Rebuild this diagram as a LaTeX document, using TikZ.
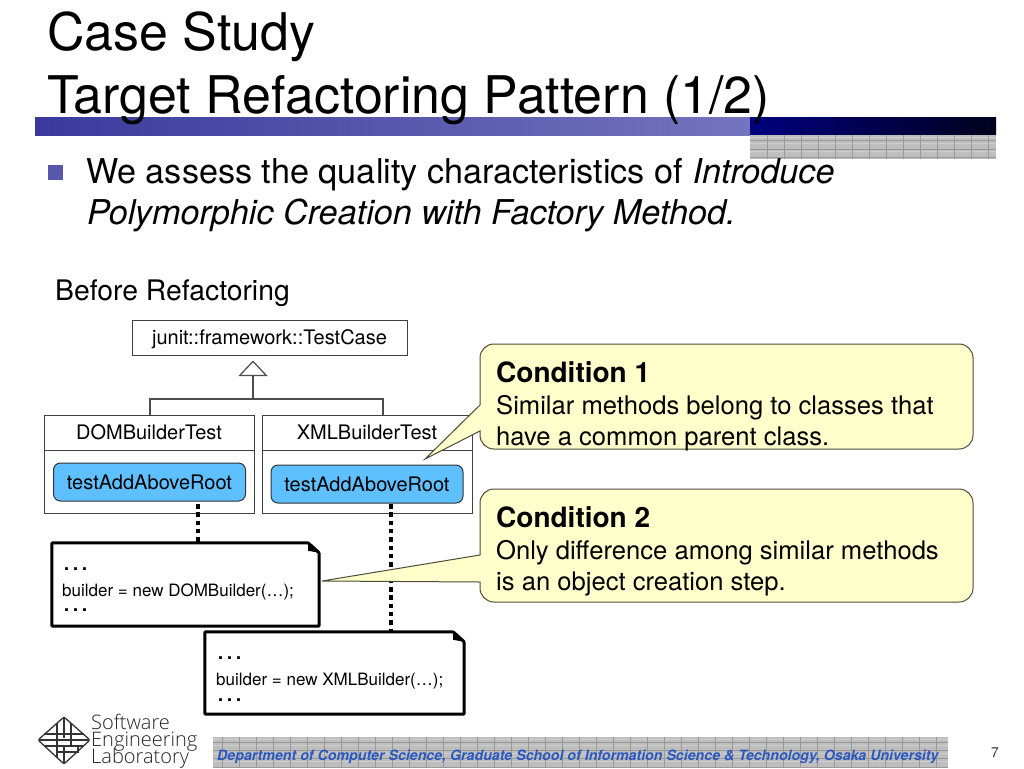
\documentclass[tikz,border=0pt]{standalone}
\usepackage{fontspec}
\setmainfont{TeX Gyre Heros}
\newfontfamily\logofont{Open Sans Light}
\usepackage{color}
\usetikzlibrary{arrows.meta}
\def\width{1024}
\def\hauteur{768}
\definecolor{bandleft}{HTML}{3A3A9C}
\definecolor{bandright}{HTML}{7474BE}
\definecolor{navyleft}{HTML}{00007E}
\definecolor{navyright}{HTML}{02021E}
\definecolor{gridfill}{HTML}{BEBEBE}
\definecolor{pillblue}{HTML}{5FC0FF}
\definecolor{calloutyellow}{HTML}{FFFFCC}
\definecolor{lineolive}{HTML}{4C4C38}
\definecolor{footblue}{HTML}{2A58C0}
\newcommand{\notefold}[1]{
	\draw[notepath] (#1.north west) -- ([xshift=-11pt]#1.north east) -- ([yshift=-10pt]#1.north east) -- (#1.south east) -- (#1.south west) -- cycle;
	\fill[black] ([xshift=-11pt]#1.north east) -- ([yshift=-10pt]#1.north east) -- ([xshift=-11pt,yshift=-8pt]#1.north east) -- cycle;
}
\newcommand{\logolines}{\logofont\fontsize{20}{17}\selectfont\setlength{\lineskiplimit}{-20pt}}
\tikzset{
	textline/.style={inner sep=0pt, anchor=base west},
	classhead/.style={draw=black!75, line width=1pt, fill=white, font=\fontsize{20}{22}\selectfont, inner sep=0pt},
	classbody/.style={draw=black!75, line width=1pt, fill=white, inner sep=0pt, minimum width=210pt, minimum height=63pt},
	methodpill/.style={draw=black!80, line width=1pt, fill=pillblue, rounded corners=7pt, inner sep=0pt, minimum width=192pt, minimum height=38pt, font=\fontsize{20}{22}\selectfont},
	codenote/.style={inner sep=0pt},
	notepath/.style={draw=black, line width=3pt, fill=white, rounded corners=1pt},
	codetext/.style={inner sep=0pt, anchor=north west, align=left, font=\fontsize{17}{26}\selectfont},
	linkdots/.style={line width=4.6pt, dash pattern=on 4.5pt off 3.8pt},
	calloutbox/.style={fill=calloutyellow, draw=lineolive, line width=1pt},
	hierline/.style={draw=black!70, line width=1.2pt},
	gridlines/.style={draw=black!40, line width=.5pt},
}
\begin{document}
\begin{tikzpicture}[x=1pt, y=-1pt]
	\useasboundingbox (0,0) rectangle (\width,\hauteur);
	\fill[white] (0,0) rectangle (\width,\hauteur);
	%title and band
	\shade[left color=bandleft, right color=bandright] (35,117) rectangle (750,135);
	\shade[left color=navyleft, right color=navyright] (750,117) rectangle (996,134);
	\fill[gridfill] (750,135) rectangle (996,159);
	\foreach \y in {137,143,151} \draw[white, line width=1pt, opacity=.25] (750,\y) -- (996,\y);
	\foreach \y in {140,149,157} \draw[gridlines] (750,\y) -- (996,\y);
	\foreach \x in {767,784,...,996} \draw[gridlines] (\x,135) -- (\x,159);
	\node[textline, font=\fontsize{51.9}{50}\selectfont] (title1) at (47,51) {Case Study};
	\node[textline, font=\fontsize{51.9}{50}\selectfont] (title2) at (47,113) {Target Refactoring Pattern (1/2)};
	%bullet text
	\fill[bandleft!85!white] (48,165) rectangle (63,180);
	\node[textline, font=\fontsize{34.2}{40}\selectfont] (line1) at (86,183) {We assess the quality characteristics of \textit{Introduce}};
	\node[textline, font=\fontsize{34.2}{40}\selectfont\itshape] (line2) at (87,224) {Polymorphic Creation with Factory Method.};
	\node[textline, font=\fontsize{28.3}{30}\selectfont] (before) at (55,300) {Before Refactoring};
	%class boxes
	\node[classhead, minimum width=275pt, minimum height=35pt, text depth=0pt, text height=14pt] (testcase) at (269.5,337.5) {junit::framework::TestCase};
	\node[classbody] (dombody) at (149,481.5) {};
	\node[classbody] (xmlbody) at (367,481.5) {};
	\node[classhead, minimum width=210pt, minimum height=35pt, text depth=0pt, text height=14pt] (domtest) at (149,432.5) {DOMBuilderTest};
	\node[classhead, minimum width=210pt, minimum height=35pt, text depth=0pt, text height=14pt] (xmltest) at (367,432.5) {XMLBuilderTest};
	\node[methodpill] (dommethod) at (149.5,482) {testAddAboveRoot};
	\node[methodpill] (xmlmethod) at (367,484) {testAddAboveRoot};
	%inheritance
	\coordinate (branch) at (253,399);
	\coordinate (domup) at (150,415);
	\coordinate (xmlup) at (383,415);
	\draw[hierline] (domup) |- (branch) -| (xmlup);
	\draw[hierline, -{Triangle[open, width=29pt, length=15.5pt]}, shorten >=5pt] (branch) -- (branch |- testcase.south);
	%notes
	\coordinate (domlink) at (198,504);
	\coordinate (xmllink) at (391,504);
	\node[codenote, minimum width=267pt, minimum height=83pt] (domnote) at (185.5,584.5) {};
	\node[codenote, minimum width=259pt, minimum height=82pt] (xmlnote) at (334.5,673) {};
	\draw[linkdots] (domlink) -- (domlink |- domnote.north);
	\draw[linkdots] (xmllink) -- (xmllink |- xmlnote.north);
	\notefold{domnote}
	\notefold{xmlnote}
	\node[codetext] (domcode) at (62,567) {{\fontsize{27}{26}\selectfont …}\\builder = new DOMBuilder(…);\\[-10.5pt]{\fontsize{27}{26}\selectfont …}};
	\node[codetext] (xmlcode) at (216,656.5) {{\fontsize{27}{26}\selectfont …}\\builder = new XMLBuilder(…);\\[-10.5pt]{\fontsize{27}{26}\selectfont …}};
	%callouts
	\draw[calloutbox] (480,358) arc[start angle=180, end angle=270, radius=14] -- (959,344) arc[start angle=-90, end angle=0, radius=14] -- (973,435) arc[start angle=0, end angle=90, radius=14] -- (494,449) arc[start angle=90, end angle=180, radius=14] -- (480,431) -- (425,459) -- (480,405) -- cycle;
	\draw[calloutbox] (480,503) arc[start angle=180, end angle=270, radius=14] -- (959,489) arc[start angle=-90, end angle=0, radius=14] -- (973,588) arc[start angle=0, end angle=90, radius=14] -- (494,602) arc[start angle=90, end angle=180, radius=14] -- (480,582) -- (322,581) -- (480,555) -- cycle;
	\node[textline, font=\fontsize{28}{30}\selectfont\bfseries] (cond1) at (496,382) {Condition 1};
	\node[textline, font=\fontsize{25.6}{30}\selectfont] (cond1a) at (496,414) {Similar methods belong to classes that};
	\node[textline, font=\fontsize{25.6}{30}\selectfont] (cond1b) at (496,445) {have a common parent class.};
	\node[textline, font=\fontsize{28}{30}\selectfont\bfseries] (cond2) at (496,527) {Condition 2};
	\node[textline, font=\fontsize{25.6}{30}\selectfont] (cond2a) at (496,559) {Only difference among similar methods};
	\node[textline, font=\fontsize{25.6}{30}\selectfont] (cond2b) at (496,590) {is an object creation step.};
	%footer
	\fill[gridfill] (213,737) rectangle (948,768);
	\foreach \y in {739,745,753,761} \draw[white, line width=1pt, opacity=.25] (213,\y) -- (948,\y);
	\foreach \y in {742,750,758,767} \draw[gridlines] (213,\y) -- (948,\y);
	\foreach \x in {222,239,...,948} \draw[gridlines] (\x,737) -- (\x,768);
	\node[textline, font=\fontsize{14.2}{18}\selectfont\bfseries\itshape, text=footblue] (footer) at (217,760) {Department of Computer Science, Graduate School of Information Science \& Technology, Osaka University};
	\node[textline, font=\fontsize{14}{16}\selectfont, text=black!80] (pagenum) at (991,757) {7};
	%logo
	\begin{scope}[line width=1.3pt, black!80]
		\draw[rounded corners=2pt] (38,740) -- (64,717) -- (90,740) -- (64,764) -- cycle;
		\draw (57,723) -- (57,758) (64,717) -- (64,738) (71,723) -- (71,746) (64,746) -- (64,764) (78,746) -- (78,753);
		\draw (44,734) -- (84,734) (39,740) -- (89,740) (44,746) -- (84,746) (57,752) -- (78,752);
	\end{scope}
	\node[inner sep=0pt, anchor=north west, align=left, font=\logolines, text=black!85] (logotext) at (91,714) {Software\\Engineering\\Laboratory};
\end{tikzpicture}
\end{document}
